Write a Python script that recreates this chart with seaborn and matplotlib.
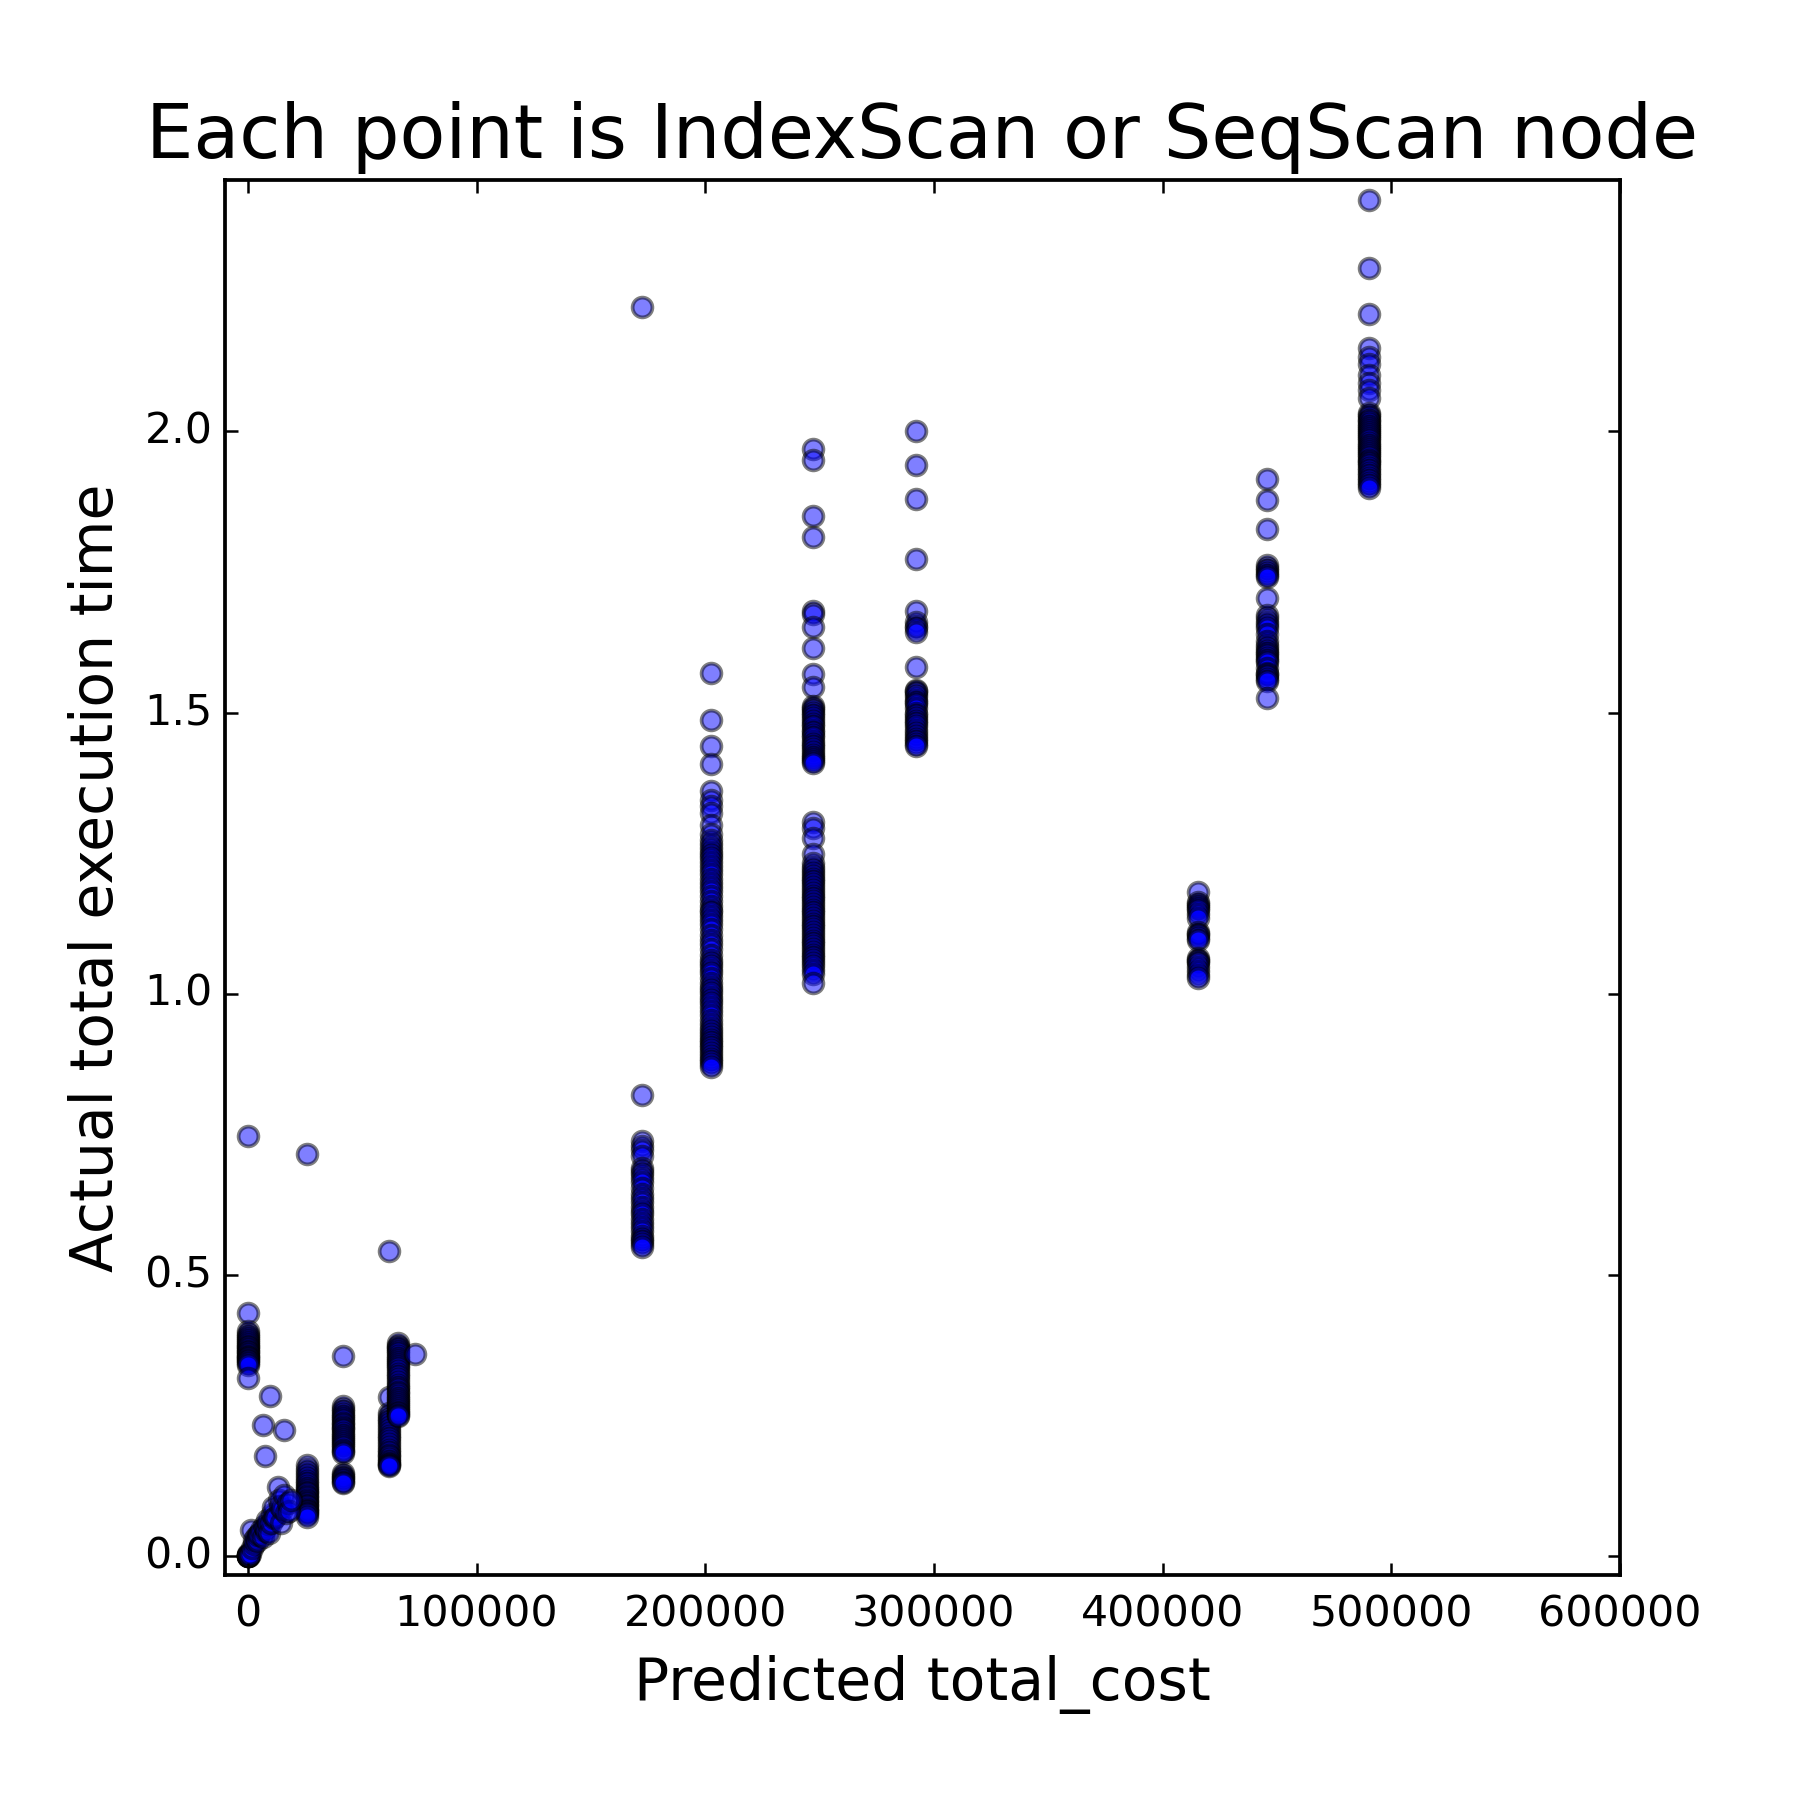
import matplotlib
matplotlib.use("Agg")
import matplotlib.pyplot as plt
import seaborn as sns
import pandas as pd

# ---- data ----
# origin / near-zero cost nodes
x_zero = 0
y_zero = [0.0, 0.0, 0.0, 0.0, 0.0, 0.001, 0.002, 0.003, 0.004,
          0.433, 0.400, 0.396, 0.392, 0.388, 0.385, 0.381, 0.378, 0.375, 0.372,
          0.369, 0.366, 0.363, 0.360, 0.357, 0.355, 0.352, 0.350, 0.347, 0.344,
          0.340, 0.317, 0.747]

# small-cost diagonal band
x_small = [700, 900, 1400, 2000, 2500, 2800, 3500, 4000, 4500, 5000, 5800, 6500,
           7000, 7500, 8000, 8500, 9000, 9400, 10000, 10500, 11000, 11500, 12000,
           13000, 13500, 14000, 14500, 15000, 16000, 16500, 17400, 18000, 18900,
           9700, 6500, 15900, 7600]
y_small = [0.0, 0.005, 0.047, 0.015, 0.022, 0.030, 0.035, 0.028, 0.038, 0.040,
           0.047, 0.035, 0.055, 0.050, 0.045, 0.065, 0.058, 0.042, 0.060, 0.075,
           0.088, 0.068, 0.070, 0.124, 0.100, 0.090, 0.059, 0.085, 0.110, 0.078,
           0.095, 0.080, 0.100, 0.286, 0.233, 0.224, 0.178]

x_c1 = 25900
y_c1 = [0.716, 0.163, 0.155, 0.150, 0.145, 0.140, 0.135, 0.130, 0.125, 0.122,
        0.119, 0.115, 0.112, 0.108, 0.105, 0.101, 0.098, 0.095, 0.092, 0.089,
        0.085, 0.082, 0.080, 0.077, 0.075, 0.071]

x_c2 = 41400
y_c2 = [0.356, 0.267, 0.262, 0.258, 0.254, 0.250, 0.246, 0.242, 0.238, 0.235,
        0.231, 0.228, 0.224, 0.220, 0.216, 0.212, 0.208, 0.205, 0.201, 0.198,
        0.194, 0.190, 0.187, 0.184, 0.148, 0.145, 0.142, 0.139, 0.136, 0.133, 0.130]

x_c3 = 61500
y_c3 = [0.543, 0.284, 0.255, 0.250, 0.245, 0.240, 0.235, 0.230, 0.225, 0.220,
        0.215, 0.210, 0.205, 0.200, 0.195, 0.190, 0.185, 0.181, 0.178, 0.174,
        0.170, 0.167, 0.165, 0.162, 0.160]

x_c4 = 65500
y_c4 = [0.379, 0.375, 0.372, 0.368, 0.365, 0.361, 0.357, 0.353, 0.350, 0.346,
        0.342, 0.338, 0.335, 0.330, 0.325, 0.320, 0.315, 0.310, 0.305, 0.301,
        0.297, 0.293, 0.290, 0.286, 0.282, 0.278, 0.275, 0.271, 0.268, 0.264,
        0.260, 0.257, 0.255, 0.252, 0.249]

x_c5 = 73100
y_c5 = [0.360]

x_c6 = 172400
y_c6 = [2.222, 0.821, 0.738, 0.730, 0.722, 0.712, 0.690, 0.685, 0.680, 0.672,
        0.665, 0.655, 0.645, 0.638, 0.630, 0.622, 0.615, 0.608, 0.600, 0.593,
        0.585, 0.578, 0.570, 0.565, 0.560, 0.555, 0.551]

x_c7 = 202500
y_c7 = [1.570, 1.487, 1.441, 1.409, 1.360, 1.345, 1.335, 1.322, 1.300, 1.285,
        1.274, 1.267, 1.260, 1.253, 1.247, 1.241, 1.235, 1.228, 1.221, 1.213,
        1.205, 1.198, 1.191, 1.183, 1.175, 1.166, 1.156, 1.150, 1.145, 1.138,
        1.132, 1.124, 1.115, 1.105, 1.096, 1.088, 1.080, 1.070, 1.061, 1.055,
        1.050, 1.043, 1.037, 1.028, 1.020, 1.013, 1.007, 1.001, 0.995, 0.990,
        0.984, 0.977, 0.970, 0.962, 0.954, 0.947, 0.940, 0.934, 0.928, 0.923,
        0.919, 0.914, 0.910, 0.905, 0.901, 0.895, 0.890, 0.885, 0.880, 0.875,
        0.871]

x_c8 = 247100
y_c8 = [1.968, 1.949, 1.849, 1.812, 1.681, 1.675, 1.652, 1.615, 1.569, 1.545,
        1.512, 1.508, 1.505, 1.500, 1.495, 1.490, 1.485, 1.480, 1.476, 1.470,
        1.465, 1.460, 1.456, 1.450, 1.445, 1.440, 1.436, 1.430, 1.425, 1.421,
        1.418, 1.414, 1.410, 1.305, 1.295, 1.278, 1.249, 1.232, 1.226, 1.220,
        1.215, 1.210, 1.205, 1.200, 1.195, 1.190, 1.185, 1.180, 1.175, 1.170,
        1.165, 1.160, 1.155, 1.150, 1.145, 1.140, 1.135, 1.130, 1.125, 1.120,
        1.115, 1.110, 1.105, 1.100, 1.095, 1.090, 1.085, 1.080, 1.075, 1.070,
        1.065, 1.060, 1.055, 1.050, 1.043, 1.035, 1.019]

x_c9 = 292200
y_c9 = [2.000, 1.941, 1.880, 1.774, 1.680, 1.662, 1.655, 1.650, 1.644, 1.582,
        1.541, 1.538, 1.535, 1.529, 1.523, 1.519, 1.515, 1.508, 1.500, 1.495,
        1.490, 1.486, 1.482, 1.476, 1.470, 1.464, 1.458, 1.454, 1.450, 1.445,
        1.440]

x_c10 = 415500
y_c10 = [1.182, 1.164, 1.160, 1.157, 1.153, 1.150, 1.142, 1.135, 1.111, 1.107,
         1.104, 1.100, 1.096, 1.064, 1.061, 1.058, 1.055, 1.048, 1.040, 1.034,
         1.029]

x_c11 = 445600
y_c11 = [1.916, 1.878, 1.827, 1.763, 1.758, 1.754, 1.748, 1.745, 1.742, 1.704,
         1.674, 1.668, 1.662, 1.656, 1.651, 1.640, 1.627, 1.620, 1.615, 1.610,
         1.606, 1.602, 1.598, 1.594, 1.591, 1.580, 1.571, 1.568, 1.565, 1.560,
         1.556, 1.527]

x_c12 = 490200
y_c12 = [2.412, 2.291, 2.209, 2.149, 2.133, 2.119, 2.101, 2.087, 2.074, 2.060,
         2.033, 2.029, 2.025, 2.021, 2.018, 2.014, 2.010, 2.006, 2.003, 1.999,
         1.995, 1.992, 1.989, 1.984, 1.980, 1.976, 1.973, 1.969, 1.965, 1.962,
         1.959, 1.954, 1.950, 1.947, 1.944, 1.940, 1.935, 1.931, 1.927, 1.922,
         1.918, 1.913, 1.909, 1.904, 1.900]

x_ticks = [0, 100000, 200000, 300000, 400000, 500000, 600000]
y_ticks = [0.0, 0.5, 1.0, 1.5, 2.0]

# ---- assemble ----
xs, ys = [], []
for xv, yl in [(x_zero, y_zero), (x_c1, y_c1), (x_c2, y_c2), (x_c3, y_c3),
               (x_c4, y_c4), (x_c5, y_c5), (x_c6, y_c6), (x_c7, y_c7),
               (x_c8, y_c8), (x_c9, y_c9), (x_c10, y_c10), (x_c11, y_c11),
               (x_c12, y_c12)]:
    xs += [xv] * len(yl)
    ys += list(yl)
xs += x_small
ys += y_small
df = pd.DataFrame({"cost": xs, "time": ys})

plt.style.use("classic")
plt.rcParams["font.family"] = ["DejaVu Sans"]

fig = plt.figure(figsize=(8, 8), dpi=225, facecolor="white")
ax = fig.add_axes([0.125, 0.125, 0.775, 0.775])
ax.set_facecolor("white")

sns.scatterplot(data=df, x="cost", y="time", ax=ax, color="blue", alpha=0.5,
                edgecolor="black", linewidth=1.2, s=40, legend=False)

ax.set_xlim(-10000, 600000)
ax.set_ylim(-0.033, 2.447)
ax.set_xticks(x_ticks)
ax.set_yticks(y_ticks)
ax.set_xticklabels([str(t) for t in x_ticks])
ax.set_yticklabels([f"{t:.1f}" for t in y_ticks])
ax.tick_params(direction="in", length=4, width=0.8, top=True, right=True,
               labelsize=13.7)
ax.tick_params(axis="x", pad=6)
ax.tick_params(axis="y", pad=4)
for sp in ax.spines.values():
    sp.set_linewidth(1.2)

ax.set_title("Each point is IndexScan or SeqScan node", fontsize=24, pad=7)
ax.set_xlabel("Predicted total_cost", fontsize=18.7, labelpad=6)
ax.set_ylabel("Actual total execution time", fontsize=18.7, labelpad=6)

fig.savefig("out.png", dpi=225, facecolor="white")
